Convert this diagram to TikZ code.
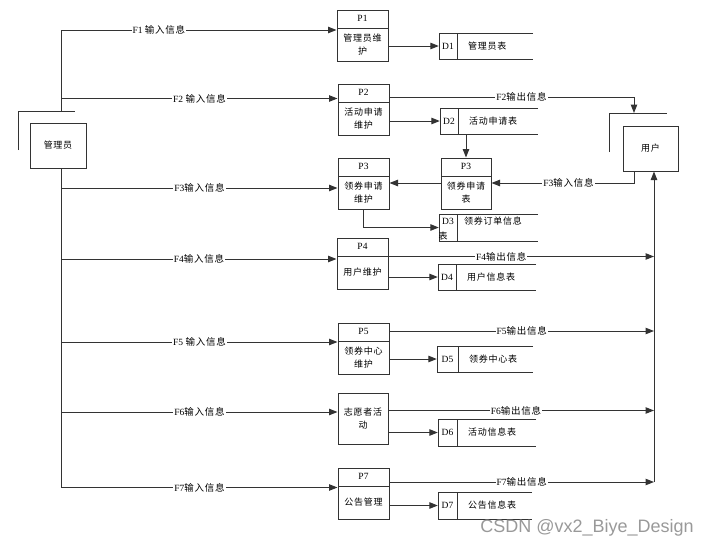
\documentclass[tikz,border=0pt]{standalone}
\usepackage{fontspec}
\setmainfont{Liberation Serif}
\newfontfamily\cjk[LetterSpace=8]{Noto Sans CJK SC}
\newfontfamily\wmfont{Liberation Sans}
\usetikzlibrary{arrows.meta,fit}
\newcommand\zh[1]{{\cjk #1}}
\tikzset{
 ln/.style={draw=black!80, line width=1pt},
 arr/.style={ln, -{Triangle[length=8.5pt,width=6.5pt]}},
 lbl/.style={fill=white, inner sep=1pt, font=\fontsize{9.5}{10}\selectfont},
 proc/.style={ln, minimum width=51pt, minimum height=51pt, inner sep=0pt,
   path picture={\draw[black!80,line width=1pt] ([yshift=-18pt]path picture bounding box.north west) -- ([yshift=-18pt]path picture bounding box.north east);}},
 plainbox/.style={ln, minimum width=50pt, minimum height=51pt, inner sep=0pt},
 txt/.style={font=\cjk\fontsize{9}{13}\selectfont, align=center, inner sep=0pt},
 idt/.style={font=\fontsize{9.5}{10}\selectfont, inner sep=0pt},
}
\newcommand\dstore[8]{%
 \node[fit={(#2,#5) (#4,#6)}, inner sep=0pt] (#1) {};
 \draw[ln] (#4,#5) -- (#2,#5) -- (#2,#6) -- (#4,#6);
 \draw[ln] (#3,#5) -- (#3,#6);
 \node[idt] at ({(#2+#3)/2},{(#5+#6)/2}) {#7};
 \node[txt,anchor=west] at ({#3+11},{(#5+#6)/2}) {#8};
}
\begin{document}
\begin{tikzpicture}[x=1pt,y=-1pt]
\useasboundingbox (0,0) rectangle (710,549);

% external entities
\node[ln, minimum width=56pt, minimum height=45pt, inner sep=0pt, txt] (admin) at (58,145.5) {管理员};
\draw[ln] (18,150) -- (18,111) -- (75,111);
\node[ln, minimum width=55pt, minimum height=45pt, inner sep=0pt, txt] (user) at (650.5,148.5) {用户};
\draw[ln] (609,152) -- (609,113) -- (667,113);

% processes
\node[proc] (P1) at (362.5,35.5) {};
\node[idt] at ([yshift=-9pt]P1.north) {P1};
\node[txt] at ([yshift=-9pt]P1.center) {管理员维\\护};

\node[proc] (P2) at (363.5,109.5) {};
\node[idt] at ([yshift=-9pt]P2.north) {P2};
\node[txt] at ([yshift=-9pt]P2.center) {活动申请\\维护};

\node[proc] (P3) at (363.5,183.5) {};
\node[idt] at ([yshift=-9pt]P3.north) {P3};
\node[txt] at ([yshift=-9pt]P3.center) {领券申请\\维护};

\node[proc, minimum width=50pt] (P3s) at (466,183.5) {};
\node[idt] at ([yshift=-9pt]P3s.north) {P3};
\node[txt] at ([yshift=-9pt]P3s.center) {领券申请\\表};

\node[proc] (P4) at (362.5,263.5) {};
\node[idt] at ([yshift=-9pt]P4.north) {P4};
\node[txt] at ([yshift=-9pt]P4.center) {用户维护};

\node[proc] (P5) at (363.5,348.5) {};
\node[idt] at ([yshift=-9pt]P5.north) {P5};
\node[txt] at ([yshift=-9pt]P5.center) {领券中心\\维护};

\node[plainbox] (P6) at (363,418.5) {};
\node[txt] at (P6.center) {志愿者活\\动};

\node[proc] (P7) at (363.5,493.5) {};
\node[idt] at ([yshift=-9pt]P7.north) {P7};
\node[txt] at ([yshift=-9pt]P7.center) {公告管理};

% data stores
\dstore{D1}{439}{457}{533}{33}{59}{D1}{管理员表}
\dstore{D2}{440}{458}{538}{108}{134}{D2}{活动申请表}
\dstore{D3}{439}{457}{538}{214}{241}{}{}
\node[idt] at (448,221) {D3};
\node[txt] at (443,236) {表};
\node[txt,anchor=west] at (464,221) {领券订单信息};
\dstore{D4}{438}{456}{536}{264}{290}{D4}{用户信息表}
\dstore{D5}{437}{458}{533}{346}{372}{D5}{领券中心表}
\dstore{D6}{438}{457}{536}{419}{446}{D6}{活动信息表}
\dstore{D7}{438}{457}{532}{492}{519}{D7}{公告信息表}

% trunk from admin
\coordinate (t1) at (61.5,30);
\coordinate (t2) at (61.5,98.5);
\coordinate (t3) at (61.5,188);
\coordinate (t4) at (61.5,259);
\coordinate (t5) at (61.5,342);
\coordinate (t6) at (61.5,412);
\coordinate (t7) at (61.5,487.5);
\coordinate (tc) at (61.5,111);
\draw[ln] (t1) -- (tc);
\draw[ln] (admin.south -| t1) -- (t7);

% inputs
\draw[arr] (t1) -- node[lbl,pos=.354]{F1 \zh{输入信息}} (t1 -| P1.west);
\draw[arr] (t2) -- node[lbl,pos=.5]{F2 \zh{输入信息}} (t2 -| P2.west);
\draw[arr] (t3) -- node[lbl,pos=.5]{F3\zh{输入信息}} (t3 -| P3.west);
\draw[arr] (t4) -- node[lbl,pos=.5]{F4\zh{输入信息}} (t4 -| P4.west);
\draw[arr] (t5) -- node[lbl,pos=.5]{F5 \zh{输入信息}} (t5 -| P5.west);
\draw[arr] (t6) -- node[lbl,pos=.5]{F6\zh{输入信息}} (t6 -| P6.west);
\draw[arr] (t7) -- node[lbl,pos=.5]{F7\zh{输入信息}} (t7 -| P7.west);

% process to store
\draw[arr] (P1.east |- D1.west) -- (D1.west);
\draw[arr] (P2.east |- D2.west) -- (D2.west);
\draw[arr] (P4.east |- D4.west) -- (D4.west);
\draw[arr] (P5.east |- D5.west) -- (D5.west);
\draw[arr] (P6.east |- D6.west) -- (D6.west);
\draw[arr] (P7.east |- D7.west) -- (D7.west);
\draw[arr] (P3.south) -- (P3.south |- D3.west) -- (D3.west);
\draw[arr] (D2.south -| P3s.north) -- (P3s.north);

% F2 output to user
\coordinate (c2) at (634,97);
\coordinate (u2) at (634,113);
\draw[arr] (P2.east |- c2) -- node[lbl,pos=.54]{F2\zh{输出信息}} (c2) -- (u2);

% F3 input from user
\coordinate (u3) at (634,171);
\coordinate (c3) at (634,183);
\draw[arr] (u3) -- (c3) -- node[lbl,pos=.46]{F3\zh{输入信息}} (c3 -| P3s.east);
\draw[arr] (P3s.west |- c3) -- (P3.east |- c3);

% outputs to user bus
\coordinate (r4) at (654,256.5);
\coordinate (r5) at (654,331);
\coordinate (r6) at (654,410.5);
\coordinate (r7) at (654,482);
\draw[arr] (P4.east |- r4) -- node[lbl,pos=.425]{F4\zh{输出信息}} (r4);
\draw[arr] (P5.east |- r5) -- node[lbl,pos=.5]{F5\zh{输出信息}} (r5);
\draw[arr] (P6.east |- r6) -- node[lbl,pos=.48]{F6\zh{输出信息}} (r6);
\draw[arr] (P7.east |- r7) -- node[lbl,pos=.5]{F7\zh{输出信息}} (r7);
\draw[arr] (r7) -- (r7 |- user.south);

% watermark
\node[font=\wmfont\fontsize{18}{18}\selectfont, text=black!40, inner sep=0pt] (wm) at (587,528) {CSDN @vx2\_Biye\_Design};
\end{tikzpicture}
\end{document}
